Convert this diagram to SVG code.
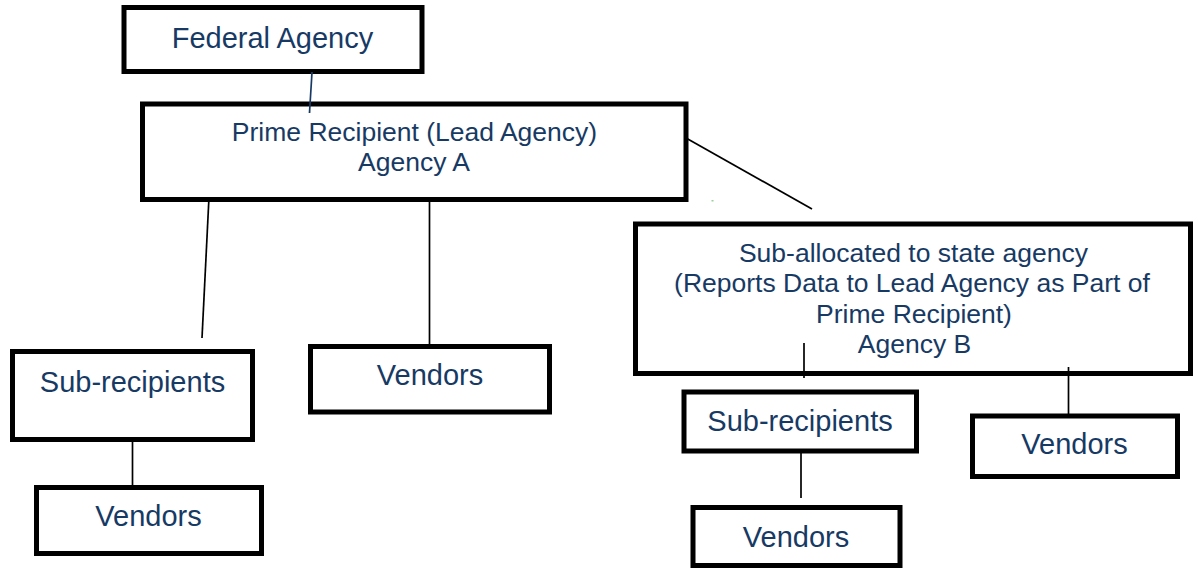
<svg xmlns="http://www.w3.org/2000/svg" width="1201" height="569" viewBox="0 0 1201 569">
  <style>
    .box { fill: #ffffff; stroke: #000000; stroke-width: 5; }
    .lbl { font-family: "Liberation Sans", Arial, sans-serif; fill: #173a64; text-anchor: middle; }
    .big { font-size: 29px; }
    .mid { font-size: 26.5px; }
    .link { stroke: #000000; stroke-width: 1.7; fill: none; }
    .link-blue { stroke: #173a64; stroke-width: 1.7; fill: none; }
  </style>
  <rect width="1201" height="569" fill="#ffffff"/>

  <g id="federal-agency">
    <rect class="box" x="124" y="7.5" width="298" height="64"/>
    <text class="lbl big" x="272.5" y="47.5">Federal Agency</text>
  </g>

  <g id="prime-recipient">
    <rect class="box" x="142.5" y="104" width="543.5" height="95.5"/>
    <text class="lbl mid" x="414.5" y="141">Prime Recipient (Lead Agency)</text>
    <text class="lbl mid" x="414" y="171">Agency A</text>
  </g>

  <g id="agency-b">
    <rect class="box" x="635.5" y="224" width="555" height="149.5"/>
    <text class="lbl mid" x="913.5" y="261.5">Sub-allocated to state agency</text>
    <text class="lbl mid" x="912" y="292">(Reports Data to Lead Agency as Part of</text>
    <text class="lbl mid" x="914" y="322.5">Prime Recipient)</text>
    <text class="lbl mid" x="914.5" y="353">Agency B</text>
  </g>

  <g id="sub-recipients-a">
    <rect class="box" x="12.5" y="351.5" width="240" height="88"/>
    <text class="lbl big" x="132.5" y="391.5">Sub-recipients</text>
  </g>

  <g id="vendors-a">
    <rect class="box" x="310.5" y="346.5" width="239" height="65.5"/>
    <text class="lbl big" x="430" y="385">Vendors</text>
  </g>

  <g id="vendors-sub-a">
    <rect class="box" x="36.5" y="487.5" width="225" height="66"/>
    <text class="lbl big" x="148.5" y="526">Vendors</text>
  </g>

  <g id="sub-recipients-b">
    <rect class="box" x="684" y="392" width="232.5" height="59"/>
    <text class="lbl big" x="800" y="430.5">Sub-recipients</text>
  </g>

  <g id="vendors-b">
    <rect class="box" x="972.5" y="416" width="205" height="60.5"/>
    <text class="lbl big" x="1074.5" y="454">Vendors</text>
  </g>

  <g id="vendors-sub-b">
    <rect class="box" x="693" y="507.5" width="207" height="58"/>
    <text class="lbl big" x="796" y="546.5">Vendors</text>
  </g>

  <!-- connectors, drawn over the boxes so their ends show inside the frames -->
  <g id="connectors">
    <line class="link-blue" x1="312" y1="72" x2="309.5" y2="113"/>
    <line class="link" x1="686" y1="138" x2="812" y2="209"/>
    <line class="link" x1="209" y1="197" x2="202" y2="338"/>
    <line class="link" x1="429.5" y1="200" x2="429.5" y2="345"/>
    <line class="link" x1="132.5" y1="442" x2="132.5" y2="486"/>
    <line class="link" x1="804" y1="343" x2="804" y2="378"/>
    <line class="link" x1="1068.5" y1="367" x2="1068.5" y2="414"/>
    <line class="link" x1="801" y1="451" x2="801" y2="498"/>
  </g>

  <!-- stray speck -->
  <rect x="711.5" y="200" width="2" height="1.5" fill="#9ccf9c"/>
</svg>
